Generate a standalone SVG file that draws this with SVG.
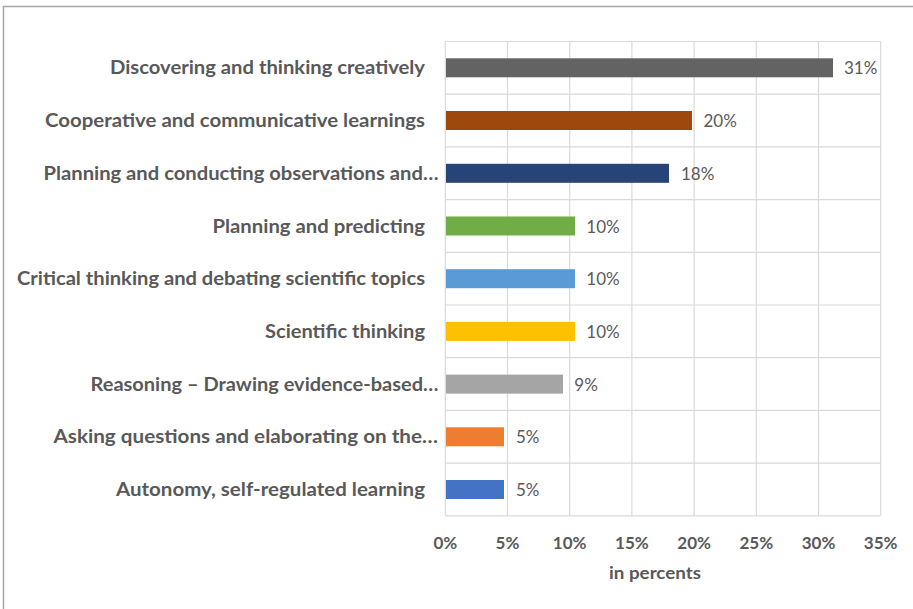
<svg xmlns="http://www.w3.org/2000/svg" width="913" height="609" viewBox="0 0 913 609">
<style>
.cat{font-family:Lato,"Liberation Sans",sans-serif;font-weight:bold;font-size:18px;fill:#595959;text-anchor:end}
.val{font-family:Lato,"Liberation Sans",sans-serif;font-size:17px;fill:#595959}
.tick{font-family:Lato,"Liberation Sans",sans-serif;font-weight:bold;font-size:17px;fill:#595959;text-anchor:middle}
.grid line{stroke:#D9D9D9;stroke-width:1.2}
</style>
<rect x="0" y="0" width="913" height="609" fill="#FFFFFF"/>
<rect x="3.5" y="6.5" width="930" height="640" fill="#FFFFFF" stroke="#A6A6A6" stroke-width="1.5"/>
<g id="gridlines" class="grid">
<line x1="445.3" y1="41.5" x2="880.7" y2="41.5"/>
<line x1="445.3" y1="94.2" x2="880.7" y2="94.2"/>
<line x1="445.3" y1="146.9" x2="880.7" y2="146.9"/>
<line x1="445.3" y1="199.6" x2="880.7" y2="199.6"/>
<line x1="445.3" y1="252.3" x2="880.7" y2="252.3"/>
<line x1="445.3" y1="305" x2="880.7" y2="305"/>
<line x1="445.3" y1="357.7" x2="880.7" y2="357.7"/>
<line x1="445.3" y1="410.4" x2="880.7" y2="410.4"/>
<line x1="445.3" y1="463.1" x2="880.7" y2="463.1"/>
<line x1="445.3" y1="515.8" x2="880.7" y2="515.8"/>
<line x1="445.3" y1="41.5" x2="445.3" y2="515.8"/>
<line x1="507.5" y1="41.5" x2="507.5" y2="515.8"/>
<line x1="569.7" y1="41.5" x2="569.7" y2="515.8"/>
<line x1="631.9" y1="41.5" x2="631.9" y2="515.8"/>
<line x1="694.1" y1="41.5" x2="694.1" y2="515.8"/>
<line x1="756.3" y1="41.5" x2="756.3" y2="515.8"/>
<line x1="818.5" y1="41.5" x2="818.5" y2="515.8"/>
<line x1="880.7" y1="41.5" x2="880.7" y2="515.8"/>
</g>
<g id="bar1">
<text class="cat" x="425" y="74.4" textLength="315" lengthAdjust="spacingAndGlyphs">Discovering and thinking creatively</text>
<rect x="446" y="58.3" width="387" height="19" fill="#636363"/>
<text class="val" x="844" y="74.4">31%</text>
</g>
<g id="bar2">
<text class="cat" x="425" y="127.1" textLength="380" lengthAdjust="spacingAndGlyphs">Cooperative and communicative learnings</text>
<rect x="446" y="111" width="246" height="19" fill="#9E480E"/>
<text class="val" x="703.5" y="127.1">20%</text>
</g>
<g id="bar3">
<text class="cat" x="438.5" y="179.8" textLength="395" lengthAdjust="spacingAndGlyphs">Planning and conducting observations and…</text>
<rect x="446" y="163.8" width="223" height="19" fill="#264478"/>
<text class="val" x="681" y="179.8">18%</text>
</g>
<g id="bar4">
<text class="cat" x="425" y="232.5" textLength="212.5" lengthAdjust="spacingAndGlyphs">Planning and predicting</text>
<rect x="446" y="216.5" width="129" height="19" fill="#70AD47"/>
<text class="val" x="586.3" y="232.5">10%</text>
</g>
<g id="bar5">
<text class="cat" x="425" y="285.2" textLength="408" lengthAdjust="spacingAndGlyphs">Critical thinking and debating scientific topics</text>
<rect x="446" y="269.2" width="129" height="19" fill="#5B9BD5"/>
<text class="val" x="586.3" y="285.2">10%</text>
</g>
<g id="bar6">
<text class="cat" x="425" y="337.9" textLength="160" lengthAdjust="spacingAndGlyphs">Scientific thinking</text>
<rect x="446" y="321.9" width="129" height="19" fill="#FFC000"/>
<text class="val" x="586.3" y="337.9">10%</text>
</g>
<g id="bar7">
<text class="cat" x="438.5" y="390.6" textLength="348" lengthAdjust="spacingAndGlyphs">Reasoning – Drawing evidence-based…</text>
<rect x="446" y="374.6" width="117" height="19" fill="#A5A5A5"/>
<text class="val" x="574.3" y="390.6">9%</text>
</g>
<g id="bar8">
<text class="cat" x="438" y="443.3" textLength="384.5" lengthAdjust="spacingAndGlyphs">Asking questions and elaborating on the…</text>
<rect x="446" y="427.3" width="58" height="19" fill="#ED7D31"/>
<text class="val" x="516" y="443.3">5%</text>
</g>
<g id="bar9">
<text class="cat" x="425" y="496" textLength="309" lengthAdjust="spacingAndGlyphs">Autonomy, self-regulated learning</text>
<rect x="446" y="480" width="58" height="19" fill="#4472C4"/>
<text class="val" x="516" y="496">5%</text>
</g>
<g id="x-axis">
<text class="tick" x="445.3" y="549">0%</text>
<text class="tick" x="507.5" y="549">5%</text>
<text class="tick" x="569.7" y="549">10%</text>
<text class="tick" x="631.9" y="549">15%</text>
<text class="tick" x="694.1" y="549">20%</text>
<text class="tick" x="756.3" y="549">25%</text>
<text class="tick" x="818.5" y="549">30%</text>
<text class="tick" x="880.7" y="549">35%</text>
<text class="tick" x="655" y="579" textLength="92" lengthAdjust="spacingAndGlyphs">in percents</text>
</g>
</svg>
